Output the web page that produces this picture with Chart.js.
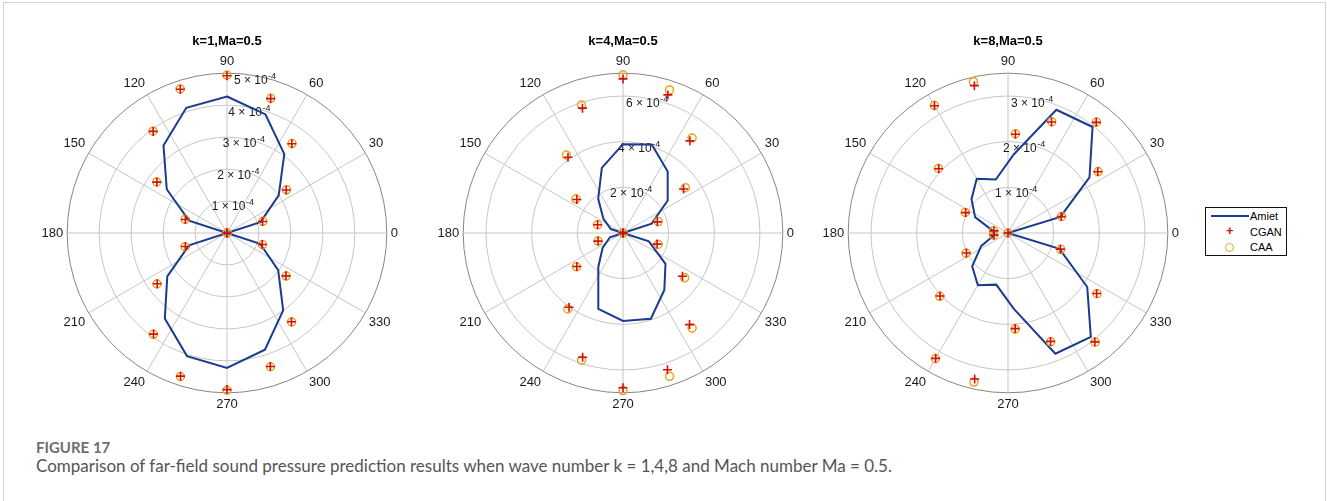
<!DOCTYPE html>
<html>
<head>
<meta charset="utf-8">
<title>Figure 17</title>
<script src="https://cdn.jsdelivr.net/npm/chart.js@4.4.1/dist/chart.umd.min.js"></script>
<style>
  html, body { margin: 0; padding: 0; background: #fff; }
  body { width: 1327px; height: 501px; position: relative; overflow: hidden; }
  #frame { position: absolute; left: 3px; top: 2px; width: 1323px; height: 560px; border: 1px solid #d4d4d4; box-sizing: border-box; }
  canvas.polar { position: absolute; top: 34px; }
  #legend { position: absolute; left: 1205px; top: 207px; width: 82px; height: 49px; box-sizing: border-box;
            border: 1.5px solid #111; background: #fff; z-index: 5;
            font: 11px "Liberation Sans", Arial, sans-serif; color: #000; }
  #legend .row { position: absolute; left: 0; height: 14px; line-height: 14px; }
  #legend .sym { position: absolute; left: 3px; width: 40px; height: 14px; }
  #legend .txt { position: absolute; left: 44px; white-space: nowrap; }
  #legend .ln { position: absolute; left: 2px; top: 6px; width: 38px; border-top: 2px solid #1b3b8f; }
  #legend .pl { position: absolute; left: 17px; top: -1px; color: #d01212; font-weight: bold; font-size: 13px; }
  #legend .ci { position: absolute; left: 16px; top: 3px; width: 7px; height: 7px; border: 1.5px solid #eea21e; border-radius: 50%; }
  #figlabel { position: absolute; left: 36px; top: 438px; font: 700 15px Lato, "Open Sans", sans-serif; color: #6e6e6e; line-height: 18px; }
  #caption { position: absolute; left: 36px; top: 456px; font: 400 17px Lato, "Open Sans", sans-serif; color: #555; line-height: 20px; white-space: nowrap; }
</style>
</head>
<body>
<div id="frame"></div>
<canvas id="p1" class="polar" width="420" height="380" style="left:17px"></canvas>
<canvas id="p2" class="polar" width="420" height="380" style="left:413px"></canvas>
<canvas id="p3" class="polar" width="420" height="380" style="left:798px"></canvas>
<div id="legend">
  <div class="row" style="top:1px"><div class="sym"><div class="ln"></div></div><span class="txt">Amiet</span></div>
  <div class="row" style="top:17px"><div class="sym"><span class="pl">+</span></div><span class="txt">CGAN</span></div>
  <div class="row" style="top:32px"><div class="sym"><div class="ci"></div></div><span class="txt">CAA</span></div>
</div>
<div id="figlabel">FIGURE 17</div>
<div id="caption">Comparison of far-field sound pressure prediction results when wave number k = 1,4,8 and Mach number Ma = 0.5.</div>

<script>
// angles in degrees (polar convention: 0 at right, counter-clockwise)
const ANGLES_18 = [0, 18, 36, 54, 72, 90, 108, 126, 144, 162, 180, 198, 216, 234, 252, 270, 288, 306, 324, 342];
const ANGLES_21 = [0, 17.14, 34.29, 51.43, 68.57, 85.71, 102.86, 120, 137.14, 154.29, 171.43,
                   188.57, 205.71, 222.86, 240, 257.14, 274.29, 291.43, 308.57, 325.71, 342.86];

// k=1, Ma=0.5
const AMIET_K1 = [0, 1.10e-4, 2.00e-4, 3.05e-4, 3.90e-4, 4.27e-4, 4.12e-4, 3.38e-4, 2.33e-4, 1.25e-4,
                  0, 1.25e-4, 2.31e-4, 3.31e-4, 4.05e-4, 4.22e-4, 3.84e-4, 2.99e-4, 1.98e-4, 1.09e-4];
const CGAN_K1  = [0, 1.17e-4, 2.29e-4, 3.45e-4, 4.42e-4, 4.92e-4, 4.73e-4, 3.93e-4, 2.71e-4, 1.37e-4,
                  0, 1.37e-4, 2.70e-4, 3.91e-4, 4.71e-4, 4.90e-4, 4.39e-4, 3.43e-4, 2.28e-4, 1.16e-4];
const CAA_K1   = [0, 1.18e-4, 2.30e-4, 3.46e-4, 4.43e-4, 4.94e-4, 4.74e-4, 3.94e-4, 2.72e-4, 1.38e-4,
                  0, 1.38e-4, 2.71e-4, 3.92e-4, 4.72e-4, 4.92e-4, 4.40e-4, 3.44e-4, 2.29e-4, 1.17e-4];

// k=4, Ma=0.5
const AMIET_K4 = [0, 1.32e-4, 2.42e-4, 3.33e-4, 4.08e-4, 3.89e-4, 3.00e-4, 1.85e-4, 1.06e-4, 0.56e-4,
                  0, 0.60e-4, 1.10e-4, 1.84e-4, 3.50e-4, 3.85e-4, 3.95e-4, 3.08e-4, 2.30e-4, 1.19e-4];
const CGAN_K4  = [0, 1.58e-4, 3.28e-4, 4.99e-4, 6.36e-4, 6.75e-4, 5.75e-4, 4.10e-4, 2.50e-4, 1.17e-4,
                  0, 1.15e-4, 2.50e-4, 4.02e-4, 5.72e-4, 6.78e-4, 6.30e-4, 4.96e-4, 3.22e-4, 1.57e-4];
const CAA_K4   = [0, 1.62e-4, 3.38e-4, 5.15e-4, 6.59e-4, 6.93e-4, 5.89e-4, 4.22e-4, 2.55e-4, 1.17e-4,
                  0, 1.15e-4, 2.52e-4, 4.11e-4, 5.86e-4, 6.90e-4, 6.60e-4, 5.15e-4, 3.34e-4, 1.62e-4];

// k=8, Ma=0.5
const AMIET_K8 = [0, 1.20e-4, 2.16e-4, 2.97e-4, 2.90e-4, 1.73e-4, 1.20e-4, 1.37e-4, 1.09e-4, 0.80e-4, 0.34e-4,
                  0.30e-4, 0.65e-4, 1.07e-4, 1.32e-4, 1.16e-4, 1.66e-4, 2.84e-4, 2.91e-4, 2.10e-4, 1.18e-4];
const CGAN_K8  = [0, 1.22e-4, 2.38e-4, 3.10e-4, 2.61e-4, 2.17e-4, 3.31e-4, 3.22e-4, 2.07e-4, 1.03e-4, 0.31e-4,
                  0.31e-4, 1.01e-4, 2.03e-4, 3.17e-4, 3.28e-4, 2.10e-4, 2.55e-4, 3.05e-4, 2.35e-4, 1.20e-4];
const CAA_K8   = [0, 1.23e-4, 2.39e-4, 3.11e-4, 2.62e-4, 2.18e-4, 3.40e-4, 3.23e-4, 2.08e-4, 1.04e-4, 0.32e-4,
                  0.32e-4, 1.02e-4, 2.04e-4, 3.18e-4, 3.35e-4, 2.11e-4, 2.56e-4, 3.06e-4, 2.36e-4, 1.21e-4];

// radial rings and which of them carry a label
const RINGS_K1 = [0, 1e-4, 2e-4, 3e-4, 4e-4, 5e-4];
const RINGS_K4 = [0, 2e-4, 4e-4, 6e-4, 7e-4];
const RINGS_K8 = [0, 1e-4, 2e-4, 3e-4, 3.5e-4];
const RLABELS_K1 = [1e-4, 2e-4, 3e-4, 4e-4, 5e-4];
const RLABELS_K4 = [2e-4, 4e-4, 6e-4];
const RLABELS_K8 = [1e-4, 2e-4, 3e-4];

const BLUE = '#1b3b8f';
const RED = '#d01212';
const ORANGE = '#eea21e';
const RING = '#c6c6c6';
const EDGE = '#858585';
const FONT = '"Liberation Sans", Arial, Helvetica, sans-serif';

// r-axis labels like  5 x 10^-4, placed along the 80 degree direction
const rTickLabels = {
  id: 'rTickLabels',
  beforeDatasetsDraw(chart, args, o) {
    const r = chart.scales.r;
    const ctx = chart.ctx;
    const slot = (90 - o.angle) / (360 / r.getLabels().length);
    const mainFont = '12px ' + FONT;
    const supFont = '9px ' + FONT;
    ctx.save();
    ctx.fillStyle = '#1a1a1a';
    ctx.textAlign = 'left';
    ctx.textBaseline = 'alphabetic';
    o.values.forEach(v => {
      const p = r.getPointPositionForValue(slot, v);
      const main = Math.round(v * 1e4) + ' \u00d7 10';
      const sup = '-4';
      ctx.font = mainFont;
      const wm = ctx.measureText(main).width;
      ctx.font = supFont;
      const ws = ctx.measureText(sup).width;
      const x0 = p.x - (wm + ws) / 2;
      ctx.font = mainFont;
      ctx.fillText(main, x0, p.y + 8.5);
      ctx.font = supFont;
      ctx.fillText(sup, x0 + wm + 0.5, p.y + 3.5);
    });
    ctx.restore();
  }
};

function slotOf(angle, n) {
  const step = 360 / n;
  return ((Math.round((90 - angle) / step) % n) + n) % n;
}

function toSlots(angles, values, n) {
  const out = new Array(n).fill(null);
  angles.forEach((a, k) => { out[slotOf(a, n)] = values[k]; });
  return out;
}

function polarChart(id, cfg) {
  const n = cfg.slots;
  const step = 360 / n;
  const labels = [];
  for (let i = 0; i < n; i++) {
    labels.push(String(((Math.round(90 - i * step) % 360) + 360) % 360));
  }
  const rMax = cfg.rings[cfg.rings.length - 1];

  return new Chart(document.getElementById(id).getContext('2d'), {
    type: 'radar',
    data: {
      labels: labels,
      datasets: [
        {
          label: 'Amiet',
          data: toSlots(cfg.angles, cfg.amiet, n),
          borderColor: BLUE,
          borderWidth: 2,
          pointRadius: 0,
          fill: false,
          spanGaps: true,
          order: 3
        },
        {
          label: 'CAA',
          data: toSlots(cfg.angles, cfg.caa, n),
          showLine: false,
          fill: false,
          pointStyle: 'circle',
          pointRadius: 4,
          pointBorderWidth: 1.5,
          pointBorderColor: ORANGE,
          pointBackgroundColor: 'rgba(0,0,0,0)',
          order: 2
        },
        {
          label: 'CGAN',
          data: toSlots(cfg.angles, cfg.cgan, n),
          showLine: false,
          fill: false,
          pointStyle: 'cross',
          pointRadius: 4.5,
          pointBorderWidth: 1.6,
          pointBorderColor: RED,
          order: 1
        }
      ]
    },
    options: {
      responsive: false,
      animation: false,
      events: [],
      layout: { padding: 0 },
      plugins: {
        legend: { display: false },
        tooltip: { enabled: false },
        title: {
          display: true,
          text: cfg.title,
          color: '#000',
          font: { family: FONT, size: 13, weight: 'bold' },
          padding: { top: 0, bottom: 4 }
        },
        rTickLabels: { angle: 80, values: cfg.rLabels }
      },
      scales: {
        r: {
          min: 0,
          max: rMax,
          startAngle: 0,
          afterBuildTicks: scale => { scale.ticks = cfg.rings.map(v => ({ value: v })); },
          ticks: { display: false },
          grid: {
            circular: true,
            lineWidth: 1,
            color: c => (c.tick && c.tick.value >= rMax - 1e-12) ? EDGE : RING
          },
          angleLines: {
            color: RING,
            lineWidth: c => (c.index % cfg.spokeEvery === 0 ? 1 : 0)
          },
          pointLabels: {
            padding: 4,
            color: '#1a1a1a',
            font: { family: FONT, size: 13 },
            callback: (lbl, i) => (i % cfg.spokeEvery === 0 ? lbl : '')
          }
        }
      }
    },
    plugins: [rTickLabels]
  });
}

polarChart('p1', {
  title: 'k=1,Ma=0.5', slots: 60, spokeEvery: 5, angles: ANGLES_18,
  amiet: AMIET_K1, cgan: CGAN_K1, caa: CAA_K1, rings: RINGS_K1, rLabels: RLABELS_K1
});
polarChart('p2', {
  title: 'k=4,Ma=0.5', slots: 60, spokeEvery: 5, angles: ANGLES_18,
  amiet: AMIET_K4, cgan: CGAN_K4, caa: CAA_K4, rings: RINGS_K4, rLabels: RLABELS_K4
});
polarChart('p3', {
  title: 'k=8,Ma=0.5', slots: 84, spokeEvery: 7, angles: ANGLES_21,
  amiet: AMIET_K8, cgan: CGAN_K8, caa: CAA_K8, rings: RINGS_K8, rLabels: RLABELS_K8
});
</script>
</body>
</html>
